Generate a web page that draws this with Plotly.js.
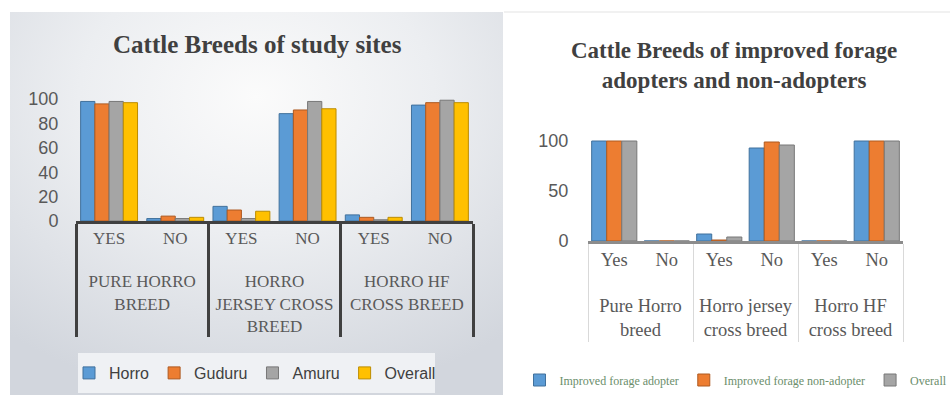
<!DOCTYPE html>
<html>
<head>
<meta charset="utf-8">
<script src="https://cdn.plot.ly/plotly-3.0.1.min.js"></script>
<style>html,body{margin:0;padding:0;background:#fff;overflow:hidden;}#chart{width:950px;height:407px;}</style>
</head>
<body>
<div id="chart"></div>
<script>
// ---- Left chart data ----
const leftGroups = ["PURE HORRO<br>BREED", "HORRO<br>JERSEY CROSS<br>BREED", "HORRO HF<br>CROSS BREED"];
const leftAnswers = ["YES", "NO"];
const leftSeries = ["Horro", "Guduru", "Amuru", "Overall"];
const horro   = [98, 2, 12, 88, 5, 95];
const guduru  = [96, 4, 9, 91, 3, 97];
const amuru   = [98, 2, 2, 98, 1, 99];
const overall = [97, 3, 8, 92, 3, 97];
const leftTicks = [0, 20, 40, 60, 80, 100];

// ---- Right chart data ----
const rightGroups = ["Pure Horro<br>breed", "Horro jersey<br>cross breed", "Horro HF<br>cross breed"];
const rightAnswers = ["Yes", "No"];
const rightSeries = ["Improved forage adopter", "Improved forage non-adopter", "Overall"];
const adopter    = [100, 0, 7, 93, 0, 100];
const nonAdopter = [100, 0, 1, 99, 0, 100];
const overallR   = [100, 0, 4, 96, 0, 100];
const rightTicks = [0, 50, 100];

const colors = ["#5B9BD5", "#ED7D31", "#A5A5A5", "#FFC000"];
const edges  = ["#41719C", "#AE5A21", "#787878", "#BC8C00"];

// inner labels get an empty second line so the group labels sit lower, as in the original
function mcX(groups, answers) {
  const outer = [], inner = [];
  groups.forEach(g => answers.forEach(a => { outer.push(g); inner.push(a + "<br>&nbsp;"); }));
  return [outer, inner];
}
const xLeft = mcX(leftGroups, leftAnswers);
const xRight = mcX(rightGroups, rightAnswers);

const traces = [];
[horro, guduru, amuru, overall].forEach((vals, i) => {
  traces.push({
    type: "bar", x: xLeft, y: vals, name: leftSeries[i],
    xaxis: "x", yaxis: "y", legend: "legend",
    marker: {color: colors[i], line: {color: edges[i], width: 1}},
    hoverinfo: "y"
  });
});
[adopter, nonAdopter, overallR].forEach((vals, i) => {
  traces.push({
    type: "bar", x: xRight, y: vals, name: rightSeries[i],
    xaxis: "x2", yaxis: "y2", legend: "legend2",
    marker: {color: colors[i], line: {color: edges[i], width: 1}},
    hoverinfo: "y"
  });
});

const W = 950, H = 407;
const px = v => v / W;
const py = v => (H - v) / H;

const bgSvg = "<svg xmlns='http://www.w3.org/2000/svg' width='493' height='383' viewBox='0 0 493 383'>" +
  "<defs><radialGradient id='g' cx='0.5' cy='0.22' r='0.8'>" +
  "<stop offset='0' stop-color='#fbfbfb'/><stop offset='0.45' stop-color='#eceef1'/>" +
  "<stop offset='1' stop-color='#d2d6dd'/></radialGradient></defs>" +
  "<rect width='493' height='383' fill='url(#g)'/>" +
  "<rect x='68' y='341' width='357' height='40' fill='#eff1f4'/></svg>";
const bgSrc = "data:image/svg+xml;charset=utf-8," + encodeURIComponent(bgSvg);

const serif = "Liberation Serif, Times New Roman, serif";
const sans = "Liberation Sans, Arial, sans-serif";

const layout = {
  width: W, height: H,
  margin: {l: 0, r: 0, t: 0, b: 0, autoexpand: false},
  paper_bgcolor: "#ffffff",
  plot_bgcolor: "rgba(0,0,0,0)",
  barmode: "group",
  bargap: 0.14,
  bargroupgap: 0,
  showlegend: true,
  images: [{
    source: bgSrc, xref: "paper", yref: "paper",
    x: px(10), y: py(12), sizex: px(503) - px(10), sizey: py(12) - py(395),
    xanchor: "left", yanchor: "top", sizing: "stretch", layer: "below"
  }],
  shapes: [
    {type: "line", xref: "paper", yref: "paper", x0: px(504), x1: 1, y0: py(12), y1: py(12),
     line: {color: "#e3e3e3", width: 1}, layer: "below"}
  ],
  xaxis: {
    domain: [px(76), px(473)], anchor: "y", type: "multicategory",
    showline: true, linecolor: "#404040", linewidth: 3,
    showdividers: true, dividercolor: "#404040", dividerwidth: 3,
    ticks: "outside", ticklen: 11, tickcolor: "rgba(0,0,0,0)",
    showgrid: false, zeroline: false, automargin: false,
    tickfont: {family: serif, size: 17, color: "#595959"}
  },
  yaxis: {
    domain: [py(221), py(99)], anchor: "x", range: [0, 100],
    tickvals: leftTicks, ticks: "outside", ticklen: 13, tickcolor: "rgba(0,0,0,0)",
    showline: false, showgrid: false, zeroline: false, automargin: false,
    tickfont: {family: sans, size: 18, color: "#595959"}
  },
  xaxis2: {
    domain: [px(588), px(903)], anchor: "y2", type: "multicategory",
    showline: true, linecolor: "#8c8c8c", linewidth: 3,
    showdividers: true, dividercolor: "#d9d9d9", dividerwidth: 1,
    ticks: "outside", ticklen: 14, tickcolor: "rgba(0,0,0,0)",
    showgrid: false, zeroline: false, automargin: false,
    tickfont: {family: serif, size: 18.5, color: "#595959"}
  },
  yaxis2: {
    domain: [py(241), py(136)], anchor: "x2", range: [0, 105],
    tickvals: rightTicks, ticks: "outside", ticklen: 15, tickcolor: "rgba(0,0,0,0)",
    showline: false, showgrid: false, zeroline: false, automargin: false,
    tickfont: {family: sans, size: 18, color: "#595959"}
  },
  legend: {
    orientation: "h", x: px(255), xanchor: "center", y: py(373), yanchor: "middle",
    bgcolor: "rgba(0,0,0,0)", itemwidth: 30,
    font: {family: sans, size: 16, color: "#404040"}, traceorder: "normal"
  },
  legend2: {
    orientation: "h", x: px(736), xanchor: "center", y: py(380), yanchor: "middle",
    bgcolor: "rgba(0,0,0,0)", itemwidth: 30,
    font: {family: serif, size: 12, color: "#6b8e6b"}, traceorder: "normal"
  },
  annotations: [
    {text: "<b>Cattle Breeds of study sites</b>", xref: "paper", yref: "paper",
     x: px(257), y: py(45), xanchor: "center", yanchor: "middle", showarrow: false,
     font: {family: serif, size: 25, color: "#404040"}},
    {text: "<b>Cattle Breeds of improved forage<br>adopters and non-adopters</b>", xref: "paper", yref: "paper",
     x: px(734), y: py(65), xanchor: "center", yanchor: "middle", showarrow: false,
     font: {family: serif, size: 23, color: "#404040"}}
  ]
};

Plotly.newPlot("chart", traces, layout, {displayModeBar: false, staticPlot: true});
</script>
</body>
</html>
